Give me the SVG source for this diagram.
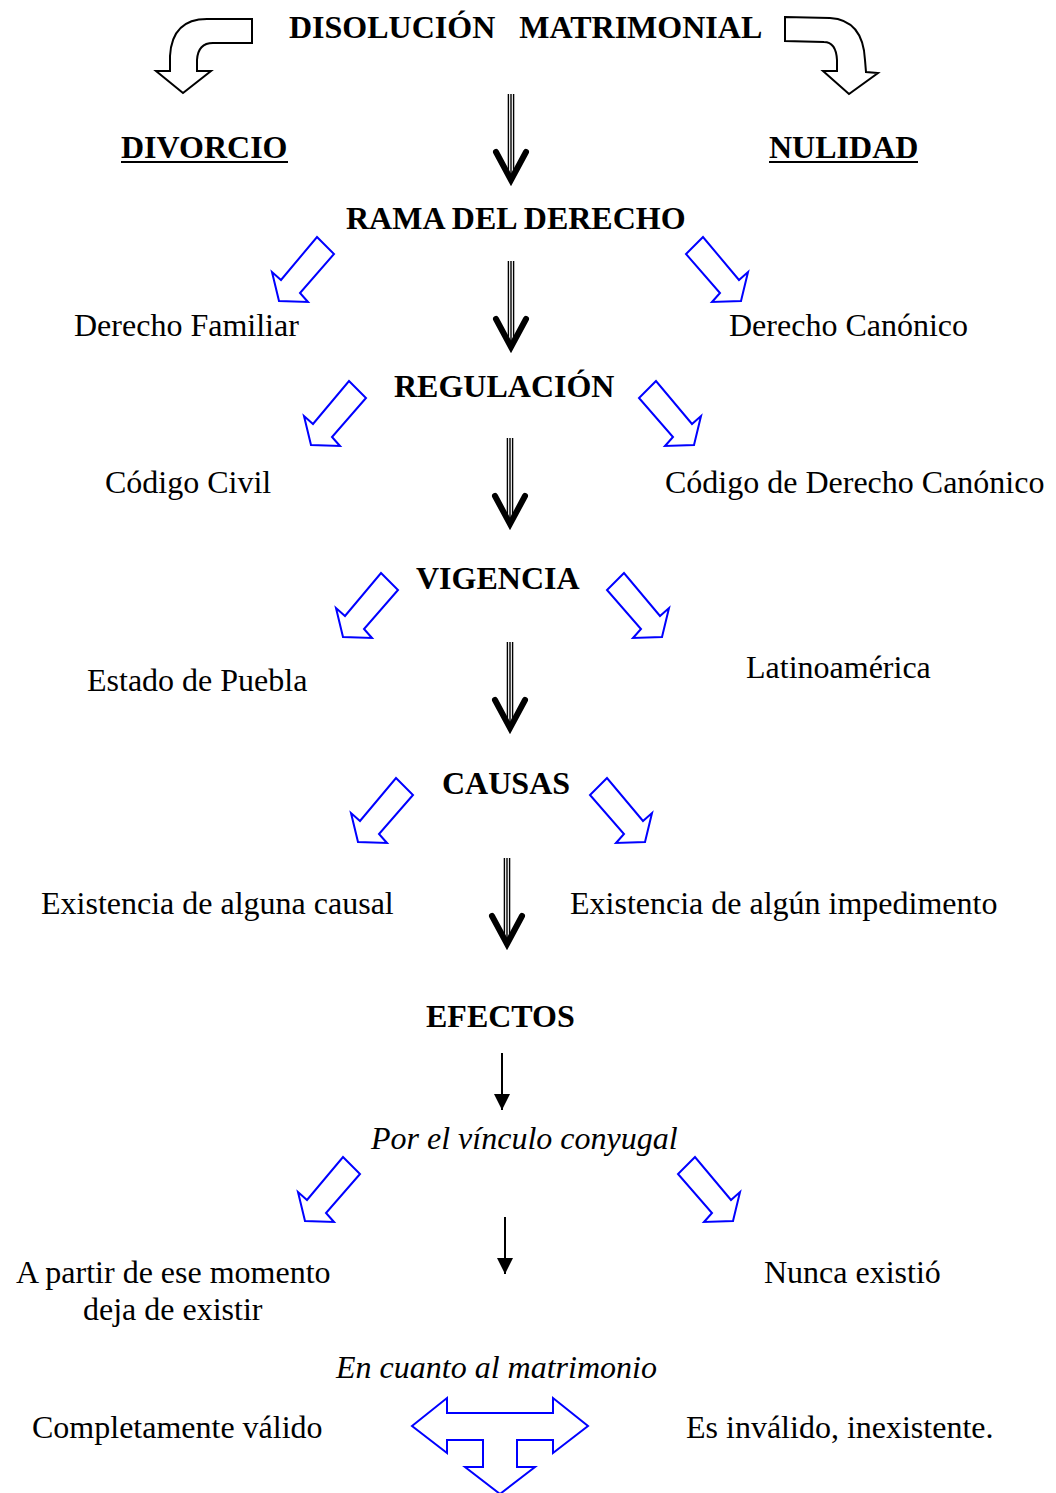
<svg xmlns="http://www.w3.org/2000/svg" xmlns:xlink="http://www.w3.org/1999/xlink" width="1056" height="1493" viewBox="0 0 1056 1493">
<style>
text{font-family:"Liberation Serif","Times New Roman",serif;font-size:32px;fill:#000}
.b{font-weight:bold}
.i{font-style:italic}
.blue{fill:#fff;stroke:#0000ff;stroke-width:2;stroke-linejoin:miter}
.curve{fill:#fff;stroke:#000;stroke-width:2}
.ul{stroke:#000;stroke-width:2}
</style>
<defs>
<g id="tri">
<line x1="-2.6" y1="0" x2="-2.6" y2="80" stroke="#000" stroke-width="1.4"/>
<line x1="0" y1="0" x2="0" y2="82" stroke="#000" stroke-width="1.4"/>
<line x1="2.6" y1="0" x2="2.6" y2="80" stroke="#000" stroke-width="1.4"/>
<polyline points="-15,58 0,86 15,58" fill="none" stroke="#000" stroke-width="6" stroke-linecap="round" stroke-linejoin="miter"/>
</g>
<polygon id="bl" class="blue" points="38,-64 55,-47 21,-8 29,1 0,0 -7,-29 2,-21"/>
<polygon id="br" class="blue" points="-38,-64 -55,-47 -21,-8 -29,1 0,0 7,-29 -2,-21"/>
<marker id="ah" viewBox="0 0 10 10" refX="10" refY="5" markerWidth="16" markerHeight="16" markerUnits="userSpaceOnUse" orient="auto">
<path d="M0,0 L10,5 L0,10 Z" fill="#000"/>
</marker>
</defs>

<g id="connectors">
<path id="curveL" class="curve" d="M252,19 L207,19 Q172,19 170,56 L170,71 L156,71 L183,93 L211,71 L197,71 L197,60 Q198,43 213,43 L252,43 Z"/>
<path id="curveR" class="curve" d="M785,17 L830,18 Q863,20 865,60 L866,72 L878,73 L849,94 L823,71 L837,71 L837,60 Q836,42 824,42 L785,41 Z"/>
<use xlink:href="#tri" x="511" y="94"/>
<use xlink:href="#tri" x="511" y="261"/>
<use xlink:href="#tri" x="510" y="438"/>
<use xlink:href="#tri" x="510" y="642"/>
<use xlink:href="#tri" x="507" y="858"/>
<use xlink:href="#bl" x="279" y="301"/>
<use xlink:href="#br" x="741" y="301"/>
<use xlink:href="#bl" x="311" y="445"/>
<use xlink:href="#br" x="694" y="445"/>
<use xlink:href="#bl" x="343" y="637"/>
<use xlink:href="#br" x="662" y="637"/>
<use xlink:href="#bl" x="358" y="842"/>
<use xlink:href="#br" x="645" y="842"/>
<use xlink:href="#bl" x="305" y="1221"/>
<use xlink:href="#br" x="733" y="1221"/>
<line x1="502" y1="1053" x2="502" y2="1110" stroke="#000" stroke-width="2" marker-end="url(#ah)"/>
<line x1="505" y1="1217" x2="505" y2="1274" stroke="#000" stroke-width="2" marker-end="url(#ah)"/>
<polygon id="tArrow" class="blue" points="412,1426 447,1398 447,1413 553,1413 553,1398 588,1426 553,1453 553,1440 517,1440 517,1467 535,1467 500,1494 465,1467 483,1467 483,1440 447,1440 447,1453"/>
</g>

<g id="title"><text class="b" x="289" y="38" xml:space="preserve">DISOLUCIÓN   MATRIMONIAL</text></g>
<g id="divorcio"><text class="b" x="121" y="158">DIVORCIO</text><line class="ul" x1="121" y1="162" x2="288" y2="162"/></g>
<g id="nulidad"><text class="b" x="769" y="158">NULIDAD</text><line class="ul" x1="769" y1="162" x2="918" y2="162"/></g>
<g id="rama"><text class="b" x="346" y="229">RAMA DEL DERECHO</text></g>
<g id="dfam"><text x="74" y="336">Derecho Familiar</text></g>
<g id="dcan"><text x="729" y="336">Derecho Canónico</text></g>
<g id="regulacion"><text class="b" x="394" y="397">REGULACIÓN</text></g>
<g id="cc"><text x="105" y="493">Código Civil</text></g>
<g id="cdc"><text x="665" y="493">Código de Derecho Canónico</text></g>
<g id="vigencia"><text class="b" x="416" y="589">VIGENCIA</text></g>
<g id="puebla"><text x="87" y="691">Estado de Puebla</text></g>
<g id="latam"><text x="746" y="678">Latinoamérica</text></g>
<g id="causas"><text class="b" x="442" y="794">CAUSAS</text></g>
<g id="causal"><text x="41" y="914">Existencia de alguna causal</text></g>
<g id="imped"><text x="570" y="914">Existencia de algún impedimento</text></g>
<g id="efectos"><text class="b" x="426" y="1027">EFECTOS</text></g>
<g id="vinculo"><text class="i" x="371" y="1149">Por el vínculo conyugal</text></g>
<g id="apartir"><text x="16" y="1283">A partir de ese momento</text><text x="83" y="1320">deja de existir</text></g>
<g id="nunca"><text x="764" y="1283">Nunca existió</text></g>
<g id="matrimonio"><text class="i" x="336" y="1378">En cuanto al matrimonio</text></g>
<g id="valido"><text x="32" y="1438">Completamente válido</text></g>
<g id="invalido"><text x="686" y="1438">Es inválido, inexistente.</text></g>
</svg>
